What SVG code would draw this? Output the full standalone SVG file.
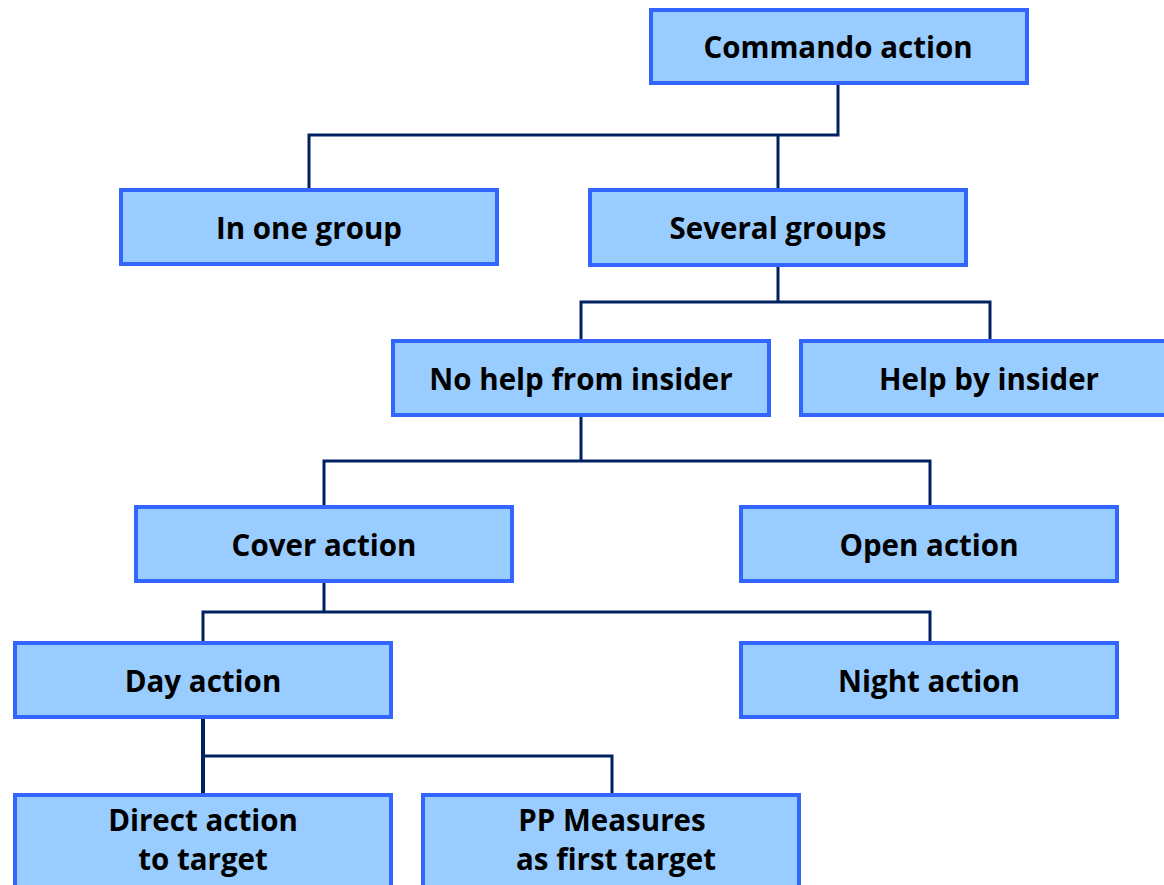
<svg xmlns="http://www.w3.org/2000/svg" width="1164" height="885" viewBox="0 0 1164 885">
  <style>
    .box { fill: #99CCFF; stroke: #3366FF; stroke-width: 4; }
    .lbl { font-family: "Open Sans", "Liberation Sans", sans-serif; font-weight: 700; font-size: 29.5px; fill: #000; text-anchor: middle; }
    .wire { fill: none; stroke: #002060; stroke-width: 3; }
    .wire.thick { stroke-width: 4; }
  </style>
  <rect width="1164" height="885" fill="#FFFFFF"/>

  <g id="connectors">
    <path class="wire" d="M838 84 V135 H309 V189 M778 135 V189"/>
    <path class="wire" d="M778 266 V302 H581 V340 M778 302 H990 V340"/>
    <path class="wire" d="M581 416 V461 H324 V506 M581 461 H930 V506"/>
    <path class="wire" d="M324 582 V612 H203 V642 M324 612 H930 V642"/>
    <path class="wire thick" d="M203 718 V794"/>
    <path class="wire" d="M203 756 H612 V794"/>
  </g>

  <g id="commando-action">
    <rect class="box" x="651" y="10" width="376" height="73"/>
    <text class="lbl" x="838" y="58">Commando action</text>
  </g>
  <g id="in-one-group">
    <rect class="box" x="121" y="190" width="376" height="74"/>
    <text class="lbl" x="309" y="239">In one group</text>
  </g>
  <g id="several-groups">
    <rect class="box" x="590" y="190" width="376" height="75"/>
    <text class="lbl" x="778" y="239">Several groups</text>
  </g>
  <g id="no-help-from-insider">
    <rect class="box" x="393" y="341" width="376" height="74"/>
    <text class="lbl" x="581" y="390">No help from insider</text>
  </g>
  <g id="help-by-insider">
    <rect class="box" x="801" y="341" width="376" height="74"/>
    <text class="lbl" x="989" y="390">Help by insider</text>
  </g>
  <g id="cover-action">
    <rect class="box" x="136" y="507" width="376" height="74"/>
    <text class="lbl" x="324" y="556">Cover action</text>
  </g>
  <g id="open-action">
    <rect class="box" x="741" y="507" width="376" height="74"/>
    <text class="lbl" x="929" y="556">Open action</text>
  </g>
  <g id="day-action">
    <rect class="box" x="15" y="643" width="376" height="74"/>
    <text class="lbl" x="203" y="692">Day action</text>
  </g>
  <g id="night-action">
    <rect class="box" x="741" y="643" width="376" height="74"/>
    <text class="lbl" x="929" y="692">Night action</text>
  </g>
  <g id="direct-action-to-target">
    <rect class="box" x="15" y="795" width="376" height="100"/>
    <text class="lbl" x="203" y="831">Direct action</text>
    <text class="lbl" x="203" y="870">to target</text>
  </g>
  <g id="pp-measures-as-first-target">
    <rect class="box" x="423" y="795" width="376" height="100"/>
    <text class="lbl" x="612" y="831">PP Measures</text>
    <text class="lbl" x="616" y="870">as first target</text>
  </g>
</svg>
